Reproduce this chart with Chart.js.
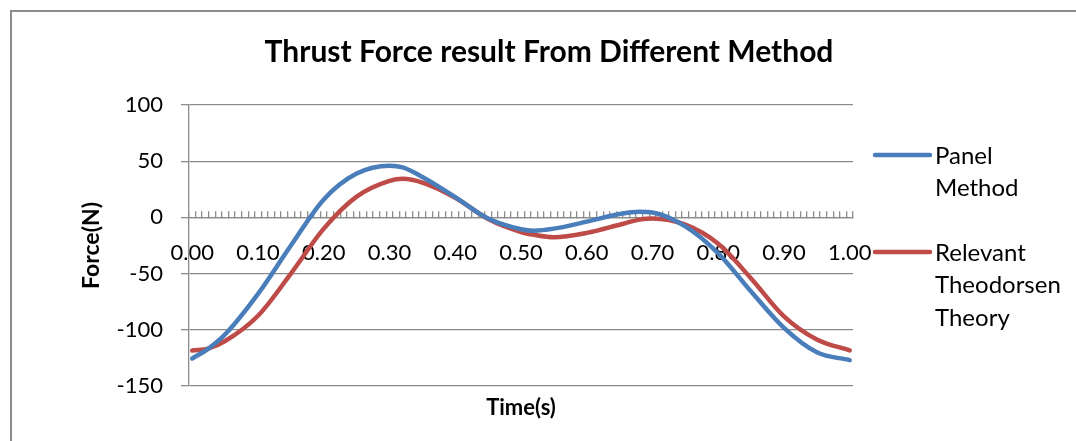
<!DOCTYPE html>
<html>
<head>
<meta charset="utf-8">
<script src="https://cdn.jsdelivr.net/npm/chart.js@4.4.1/dist/chart.umd.min.js"></script>
<style>
  html, body { margin: 0; padding: 0; background: #fff; overflow: hidden; }
  #wrap { position: relative; width: 1076px; height: 441px; overflow: hidden; }
  #frame { position: absolute; left: 10px; top: 10px; width: 1200px; height: 600px;
           border-left: 2px solid #8c8c8c; border-top: 2px solid #8c8c8c; }
  canvas { position: absolute; left: 0; top: 0; }
</style>
</head>
<body>
<div id="wrap">
  <div id="frame"></div>
  <canvas id="myChart" width="1076" height="441"></canvas>
</div>
<script>
// time samples (s)
const times = [0, 0.025, 0.05, 0.10, 0.15, 0.20, 0.25, 0.30, 0.32, 0.35, 0.40, 0.45,
               0.50, 0.52, 0.55, 0.60, 0.65, 0.68, 0.70, 0.75, 0.80, 0.85, 0.90, 0.95, 1.00];
const panelMethod = [-125.5, -116.5, -104, -68, -25, 16, 39, 46, 44.5, 36, 18, -1,
                     -10.5, -11.8, -10, -3.8, 3, 5, 4.4, -8, -32, -66, -98.3, -120, -127];
const theodorsen = [-118.5, -116.5, -110, -87.5, -50, -10, 18.5, 32.5, 34.3, 31, 17.5, -1.5,
                    -13, -15.5, -17.6, -13.8, -6.5, -2, -1, -6.5, -23.5, -54.3, -88, -108.6, -118.3];
const timeLabels = [0, 0.1, 0.2, 0.3, 0.4, 0.5, 0.6, 0.7, 0.8, 0.9, 1.0];
const yTicks = [-150, -100, -50, 0, 50, 100];

const seriesNames = [['Panel', 'Method'], ['Relevant', 'Theodorsen', 'Theory']];
const seriesColors = ['#4a7ebb', '#be4b48'];

const gridGray = '#8c8c8c';
const fontFamily = 'Lato, "Open Sans", sans-serif';

// category boundaries of the original sheet (one per 0.01 s)
const boundaryTicks = [];
for (let k = 0; k <= 101; k++) boundaryTicks.push(-0.005 + k * 0.01);

function toPoints(xs, ys) {
  return xs.map((x, i) => ({ x: x, y: ys[i] }));
}

const legendBlock = {
  id: 'legendBlock',
  afterDraw(chart) {
    const ctx = chart.ctx;
    const area = chart.chartArea;
    const rows = [area.top + 50, area.top + 147];
    ctx.save();
    ctx.font = '24px ' + fontFamily;
    ctx.fillStyle = '#000';
    ctx.textBaseline = 'middle';
    seriesNames.forEach((lines, i) => {
      const y = rows[i];
      ctx.strokeStyle = seriesColors[i];
      ctx.lineWidth = 4.5;
      ctx.lineCap = 'round';
      ctx.beginPath();
      ctx.moveTo(area.right + 22, y);
      ctx.lineTo(area.right + 77, y);
      ctx.stroke();
      lines.forEach((t, j) => ctx.fillText(t, area.right + 82, y + 1 + j * 32.5));
    });
    ctx.restore();
  }
};

let ctx = document.getElementById('myChart');
let forceChart = new Chart(ctx, {
  type: 'line',
  data: {
    datasets: [{
      label: 'Panel Method',
      data: toPoints(times, panelMethod),
      borderColor: seriesColors[0],
      borderWidth: 4.5,
      pointRadius: 0,
      cubicInterpolationMode: 'monotone',
      borderCapStyle: 'round',
      xAxisID: 'x',
      yAxisID: 'y'
    }, {
      label: 'Relevant Theodorsen Theory',
      data: toPoints(times, theodorsen),
      borderColor: seriesColors[1],
      borderWidth: 4.5,
      pointRadius: 0,
      cubicInterpolationMode: 'monotone',
      borderCapStyle: 'round',
      xAxisID: 'x',
      yAxisID: 'y'
    }]
  },
  options: {
    responsive: false,
    animation: false,
    layout: { padding: { left: 50, right: 28, top: 0, bottom: 19.6 } },
    plugins: {
      legend: { display: false },
      tooltip: { enabled: false },
      title: {
        display: true,
        text: 'Thrust Force result From Different Method',
        color: '#000',
        font: { family: fontFamily, size: 30, weight: 'bold' },
        padding: { top: 34, bottom: 35 }
      }
    },
    scales: {
      x: {
        type: 'linear',
        position: { y: 0 },
        min: -0.005,
        max: 1.005,
        afterBuildTicks: (s) => { s.ticks = timeLabels.map(v => ({ value: v })); },
        afterFit: (s) => { s.height = 0; },
        grid: { display: false, drawTicks: false },
        border: { display: false },
        ticks: {
          autoSkip: false,
          maxRotation: 0,
          padding: 22,
          color: '#000',
          font: { family: fontFamily, size: 22 },
          callback: (v) => Number(v).toFixed(2)
        }
      },
      xMarks: {
        type: 'linear',
        position: { y: 0 },
        min: -0.005,
        max: 1.005,
        afterBuildTicks: (s) => { s.ticks = boundaryTicks.map(v => ({ value: v })); },
        afterFit: (s) => { s.height = 0; },
        grid: { drawOnChartArea: false, tickLength: -7, color: gridGray, lineWidth: 1.3 },
        border: { display: true, color: gridGray, width: 1.3 },
        ticks: { display: false }
      },
      xTitle: {
        type: 'linear',
        position: 'bottom',
        grid: { display: false, drawTicks: false },
        border: { display: false },
        ticks: { display: false },
        title: {
          display: true,
          text: 'Time(s)',
          color: '#000',
          font: { family: fontFamily, size: 22, weight: 'bold' },
          padding: { top: 9, bottom: 0 }
        }
      },
      y: {
        min: -150,
        max: 100,
        afterBuildTicks: (s) => { s.ticks = yTicks.map(v => ({ value: v })); },
        afterFit: (s) => { s.width = 139; },
        grid: { color: gridGray, lineWidth: 1.3, tickLength: 8 },
        border: { display: true, color: gridGray, width: 1.3 },
        ticks: {
          padding: 18,
          color: '#000',
          font: { family: fontFamily, size: 22 }
        },
        title: {
          display: true,
          text: 'Force(N)',
          color: '#000',
          font: { family: fontFamily, size: 23, weight: 'bold' },
          padding: { top: 28.2, bottom: 0 }
        }
      },
      legendSpace: {
        type: 'linear',
        position: 'right',
        grid: { display: false, drawTicks: false },
        border: { display: false },
        ticks: { display: false },
        afterFit: (s) => { s.width = 195; }
      }
    }
  },
  plugins: [legendBlock]
});
</script>
</body>
</html>
